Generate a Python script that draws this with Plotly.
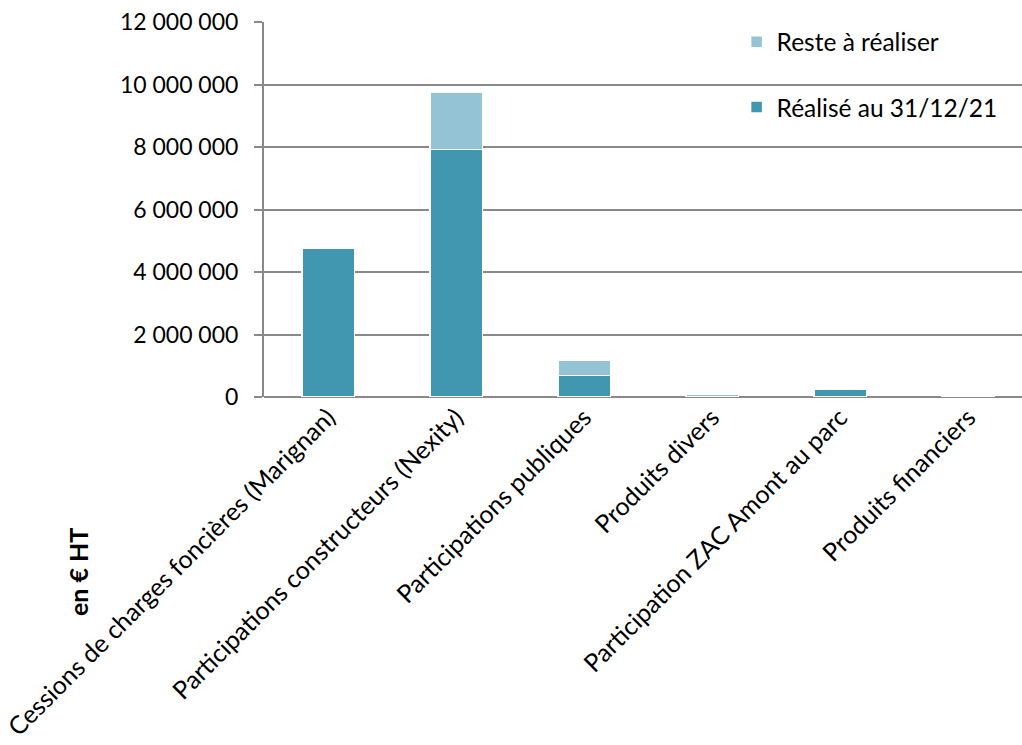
import plotly.graph_objects as go

categories = [
    "Cessions de charges foncières (Marignan)",
    "Participations constructeurs (Nexity)",
    "Participations publiques",
    "Produits divers",
    "Participation ZAC Amont au parc",
    "Produits financiers",
]
realise = [4750000, 7920000, 690000, 0, 250000, 0]
reste = [0, 1840000, 490000, 80000, 0, 20000]
y_ticks = [0, 2000000, 4000000, 6000000, 8000000, 10000000, 12000000]
y_tick_labels = ["0", "2 000 000", "4 000 000", "6 000 000", "8 000 000", "10 000 000", "12 000 000"]

DARK = "#4197AF"
LIGHT = "#93C3D4"
GRID = "#898989"
FONT = "Lato"

x_idx = list(range(len(categories)))

fig = go.Figure()
fig.add_trace(go.Bar(
    x=x_idx, y=realise, name="Réalisé au 31/12/21",
    marker=dict(color=DARK, line=dict(color="white", width=1.5)),
    width=0.41, legend="legend2",
))
fig.add_trace(go.Bar(
    x=x_idx, y=reste, name="Reste à réaliser",
    marker=dict(color=LIGHT, line=dict(color="white", width=1.5)),
    width=0.41, legend="legend",
))

fig.update_layout(
    barmode="stack",
    width=1022, height=745,
    margin=dict(l=264, r=0, t=22, b=348),
    paper_bgcolor="white", plot_bgcolor="white",
    font=dict(family=FONT, size=22, color="black"),
    showlegend=True,
    legend=dict(x=0.6235, y=0.947, xanchor="left", yanchor="middle",
                bgcolor="rgba(0,0,0,0)", font=dict(size=24.5)),
    legend2=dict(x=0.6235, y=0.773, xanchor="left", yanchor="middle",
                 bgcolor="rgba(0,0,0,0)", font=dict(size=24.5)),
    xaxis=dict(
        tickmode="array", tickvals=x_idx, ticktext=categories,
        tickangle=-45, range=[-0.5, 5.42],
        showgrid=False, showline=False, zeroline=False, ticks="",
        automargin=False, tickfont=dict(size=25),
    ),
    yaxis=dict(
        tickmode="array", tickvals=y_ticks, ticktext=y_tick_labels,
        range=[0, 12000000], showgrid=True, gridcolor=GRID, gridwidth=2,
        zeroline=True, zerolinecolor=GRID, zerolinewidth=2,
        showline=True, linecolor=GRID, linewidth=2,
        ticks="outside", ticklen=8, tickcolor=GRID, tickwidth=2,
        ticklabelstandoff=11,
        automargin=False, tickfont=dict(size=23),
    ),
    annotations=[dict(
        text="<b>en € HT</b>", textangle=-90,
        xref="paper", yref="paper",
        x=(78 - 264) / 758, y=(397 - 572) / 375,
        xanchor="center", yanchor="middle", showarrow=False,
        font=dict(size=25, family=FONT, color="black"),
    )],
)

fig.write_html("out.html")
